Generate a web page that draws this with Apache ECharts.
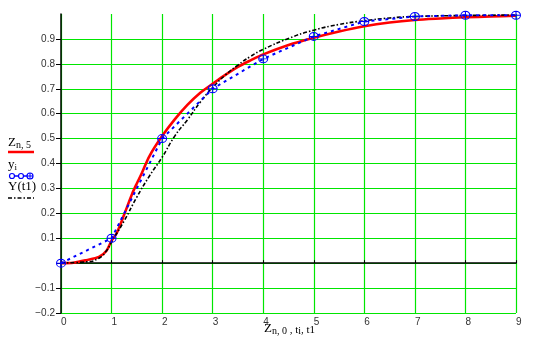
<!DOCTYPE html>
<html>
<head>
<meta charset="utf-8">
<script src="https://cdn.jsdelivr.net/npm/echarts@6/dist/echarts.min.js"></script>
<style>
  html, body { margin: 0; padding: 0; background: #fff; }
  #chart { width: 534px; height: 347px; }
</style>
</head>
<body>
<div id="chart"></div>
<script>
// Numerical solution Z[n,5] against Z[n,0]
const solT = [0, 0.25, 0.5, 0.75, 0.9, 1.0, 1.1, 1.25, 1.4, 1.5, 1.6, 1.75, 2.0, 2.25, 2.5, 2.75, 3.0, 3.25, 3.5, 3.75, 4.0, 4.5, 5.0, 5.5, 6.0, 6.5, 7.0, 7.5, 8.0, 8.5, 9.0];
const solZ = [0, 0.002, 0.012, 0.025, 0.05, 0.09, 0.12, 0.195, 0.275, 0.32, 0.362, 0.43, 0.51, 0.577, 0.635, 0.683, 0.72, 0.756, 0.788, 0.814, 0.838, 0.876, 0.905, 0.93, 0.951, 0.966, 0.976, 0.982, 0.987, 0.99, 0.993];

// Measured points y[i] at t[i]
const obsT = [0, 1, 2, 3, 4, 5, 6, 7, 8, 9];
const obsY = [0, 0.1, 0.5, 0.7, 0.82, 0.91, 0.97, 0.99, 0.995, 0.995];

// Fitted function Y(t1)
const fitT = [0, 0.5, 0.75, 0.9, 1.0, 1.25, 1.5, 1.75, 2.0, 2.25, 2.5, 2.75, 3.0, 3.25, 3.5, 3.75, 4.0, 4.5, 5.0, 5.5, 6.0, 6.5, 7.0, 8.0, 9.0];
const fitY = [0.001, 0.005, 0.02, 0.05, 0.085, 0.17, 0.265, 0.35, 0.425, 0.51, 0.575, 0.645, 0.705, 0.755, 0.795, 0.83, 0.858, 0.902, 0.935, 0.958, 0.973, 0.984, 0.99, 0.994, 0.996];

// Axis ticks
const xTicks = [0, 1, 2, 3, 4, 5, 6, 7, 8, 9];
const yLabelTicks = [-0.2, -0.1, 0.1, 0.2, 0.3, 0.4, 0.5, 0.6, 0.7, 0.8, 0.9];
const yTickMarks = [-0.2, -0.1, 0, 0.1, 0.2, 0.3, 0.4, 0.5, 0.6, 0.7, 0.8, 0.9];

const zip = (a, b) => a.map((v, i) => [v, b[i]]);

const GREEN = '#00e600';
const BLUE = '#0000ff';
const RED = '#ff0000';
const SERIF = '"Liberation Serif", "DejaVu Serif", serif';
const SANS = '"Liberation Sans", Arial, sans-serif';

// ring with a cross through it
const ringCross = 'path://M5,0A5,5 0 1,1 4.99,0ZM5,0L5,10M0,5L10,5';

const chart = echarts.init(document.getElementById('chart'), null, { renderer: 'canvas' });

// y split lines: 13 lines from -0.2 to 1.0, top one invisible
const ySplitColors = [];
for (let i = 0; i < 12; i++) ySplitColors.push(GREEN);
ySplitColors.push('rgba(0,0,0,0)');

const fmtY = v => v.toFixed(1).replace('-', '\u2212');

chart.setOption({
  animation: false,
  grid: { left: 61, right: 18, top: 14, bottom: 34 },
  xAxis: {
    type: 'value', min: 0, max: 9, interval: 1,
    axisLine: { onZero: true, lineStyle: { color: '#000', width: 1.5 } },
    axisTick: { show: true, inside: true, length: 3, lineStyle: { color: '#000' } },
    axisLabel: {
      customValues: xTicks,
      color: '#333', fontFamily: SANS, fontSize: 10, align: 'left', margin: 4,
      formatter: v => String(v)
    },
    splitLine: { show: true, lineStyle: { color: GREEN, width: 1.2 } }
  },
  yAxis: {
    type: 'value', min: -0.2, max: 1.0, interval: 0.1,
    axisLine: { show: true, onZero: false, lineStyle: { color: '#000', width: 1.5 } },
    axisTick: { show: true, customValues: yTickMarks, length: 5, lineStyle: { color: '#000' } },
    axisLabel: {
      customValues: yLabelTicks,
      color: '#333', fontFamily: SANS, fontSize: 10, margin: 6,
      formatter: fmtY
    },
    splitLine: { show: true, lineStyle: { color: ySplitColors, width: 1.2 } }
  },
  series: [
    {
      name: 'Z', type: 'line', data: zip(solT, solZ),
      showSymbol: false, symbol: 'none', smooth: 0.3,
      lineStyle: { color: RED, width: 2.6 }, z: 3
    },
    {
      name: 'Y', type: 'line', data: zip(fitT, fitY),
      showSymbol: false, symbol: 'none', smooth: true,
      lineStyle: { color: '#000', width: 1.6, type: [4, 2, 1.5, 2] }, z: 4
    },
    {
      name: 'y', type: 'line', data: zip(obsT, obsY),
      symbol: ringCross, symbolSize: [9, 8],
      itemStyle: { color: 'rgba(0,0,0,0)', borderColor: BLUE, borderWidth: 1 },
      lineStyle: { color: BLUE, width: 2, type: [3, 4] }, z: 5
    }
  ],
  graphic: [
    // legend: Z[n,5]
    {
      type: 'text', left: 8, top: 136,
      style: {
        text: '{b|Z}{s|n, 5}',
        rich: {
          b: { fontFamily: SERIF, fontSize: 13, fill: '#000' },
          s: { fontFamily: SERIF, fontSize: 10, fill: '#000', padding: [6, 0, 0, 0] }
        }
      }
    },
    { type: 'line', shape: { x1: 8, y1: 152, x2: 34, y2: 152 }, style: { stroke: RED, lineWidth: 2.5 } },
    // legend: y[i]
    {
      type: 'text', left: 8, top: 158,
      style: {
        text: '{b|y}{s|i}',
        rich: {
          b: { fontFamily: SERIF, fontSize: 13, fill: '#000' },
          s: { fontFamily: SERIF, fontSize: 9, fill: '#000', padding: [6, 0, 0, 0] }
        }
      }
    },
    { type: 'line', shape: { x1: 9, y1: 176, x2: 31, y2: 176 }, style: { stroke: BLUE, lineWidth: 1.5 } },
    { type: 'circle', shape: { cx: 12, cy: 176, r: 2.5 }, style: { fill: '#fff', stroke: BLUE, lineWidth: 1.2 } },
    { type: 'circle', shape: { cx: 21, cy: 176, r: 2.5 }, style: { fill: '#fff', stroke: BLUE, lineWidth: 1.2 } },
    { type: 'circle', shape: { cx: 30, cy: 176, r: 3 }, style: { fill: '#fff', stroke: BLUE, lineWidth: 1.2 } },
    { type: 'line', shape: { x1: 30, y1: 173, x2: 30, y2: 179 }, style: { stroke: BLUE, lineWidth: 1 } },
    { type: 'line', shape: { x1: 27, y1: 176, x2: 33, y2: 176 }, style: { stroke: BLUE, lineWidth: 1 } },
    // legend: Y(t1)
    {
      type: 'text', left: 8, top: 180,
      style: { text: 'Y(t1)', fontFamily: SERIF, fontSize: 13, fill: '#000' }
    },
    { type: 'line', shape: { x1: 8, y1: 198, x2: 34, y2: 198 }, style: { stroke: '#000', lineWidth: 1.5, lineDash: [4, 2, 1.5, 2] } },
    // x-axis caption
    {
      type: 'text', left: 264, top: 322,
      style: {
        text: '{b|Z}{s|n, 0}{m| , t}{s|i}{m|, t1}',
        rich: {
          b: { fontFamily: SERIF, fontSize: 13, fill: '#000' },
          s: { fontFamily: SERIF, fontSize: 10, fill: '#000', padding: [6, 0, 0, 0] },
          m: { fontFamily: SERIF, fontSize: 11, fill: '#000', padding: [4, 0, 0, 0] }
        }
      }
    }
  ]
});
</script>
</body>
</html>
